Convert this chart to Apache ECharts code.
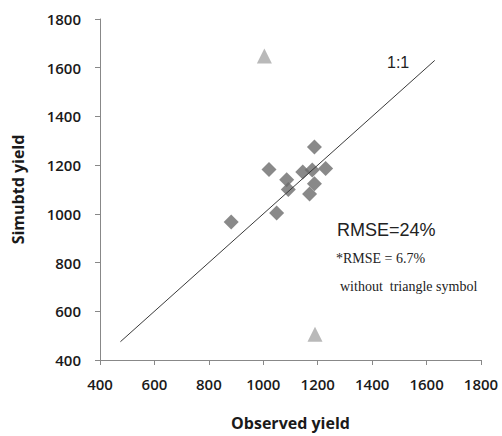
<!DOCTYPE html>
<html>
<head>
<meta charset="UTF-8">
<title>Observed vs simulated yield</title>
<script src="https://cdn.jsdelivr.net/npm/echarts@6/dist/echarts.min.js"></script>
</head>
<body style="margin:0">
<div id="chart" style="width:502px;height:436px"></div>
<script>
  // diamonds: [observed, simulated]
  const diamondPts = [
    [882, 967], [1049, 1004], [1021, 1182], [1086, 1140], [1092, 1100],
    [1145, 1172], [1188, 1274], [1180, 1180], [1229, 1186], [1188, 1124], [1170, 1082]
  ];
  // outliers (triangles)
  const trianglePts = [[1004, 1648], [1190, 506]];
  // 1:1 line ends
  const oneToOne = [[475, 475], [1630, 1630]];

  const axisFont = { fontFamily: 'Open Sans', fontSize: 15, fontWeight: 600, color: '#1a1a1a', formatter: v => String(v) };
  const nameFont = { fontFamily: 'Open Sans', fontWeight: 'bold', fontSize: 16, color: '#1a1a1a' };

  const chart = echarts.init(document.getElementById('chart'), null, { renderer: 'svg' });
  chart.setOption({
    animation: false,
    backgroundColor: '#fff',
    grid: { left: 100, right: 21, top: 19, bottom: 66 },
    xAxis: {
      type: 'value', min: 400, max: 1800, interval: 200,
      name: 'Observed yield', nameLocation: 'middle', nameGap: 55,
      nameTextStyle: nameFont,
      axisLine: { lineStyle: { color: '#888' } },
      axisTick: { show: true, length: 5, lineStyle: { color: '#888' } },
      axisLabel: Object.assign({ margin: 16 }, axisFont),
      splitLine: { show: false }
    },
    yAxis: {
      type: 'value', min: 400, max: 1800, interval: 200,
      name: 'Simubtd yield', nameLocation: 'middle', nameGap: 74,
      nameTextStyle: nameFont,
      axisLine: { show: true, lineStyle: { color: '#888' } },
      axisTick: { show: true, length: 5, lineStyle: { color: '#888' } },
      axisLabel: Object.assign({ margin: 19 }, axisFont),
      splitLine: { show: false }
    },
    series: [
      {
        type: 'line', data: oneToOne, symbol: 'none',
        lineStyle: { color: '#3a3a3a', width: 1 }, silent: true
      },
      {
        type: 'scatter', data: diamondPts, symbol: 'diamond', symbolSize: 15,
        itemStyle: { color: '#6b6b6b' }
      },
      {
        type: 'scatter', data: trianglePts, symbol: 'triangle', symbolSize: 15,
        itemStyle: { color: '#a8a8a8' }
      }
    ],
    graphic: [
      { type: 'text', left: 387, top: 54, style: { text: '1:1', font: '16px "Liberation Sans"', fill: '#222' } },
      { type: 'text', left: 337, top: 221, style: { text: 'RMSE=24%', font: '18px "Liberation Sans"', fill: '#222' } },
      { type: 'text', left: 336, top: 251, style: { text: '*RMSE = 6.7%', font: '14px "Liberation Serif"', fill: '#222' } },
      { type: 'text', left: 340, top: 279, style: { text: 'without  triangle symbol', font: '14px "Liberation Serif"', fill: '#222' } }
    ]
  });
</script>
</body>
</html>
